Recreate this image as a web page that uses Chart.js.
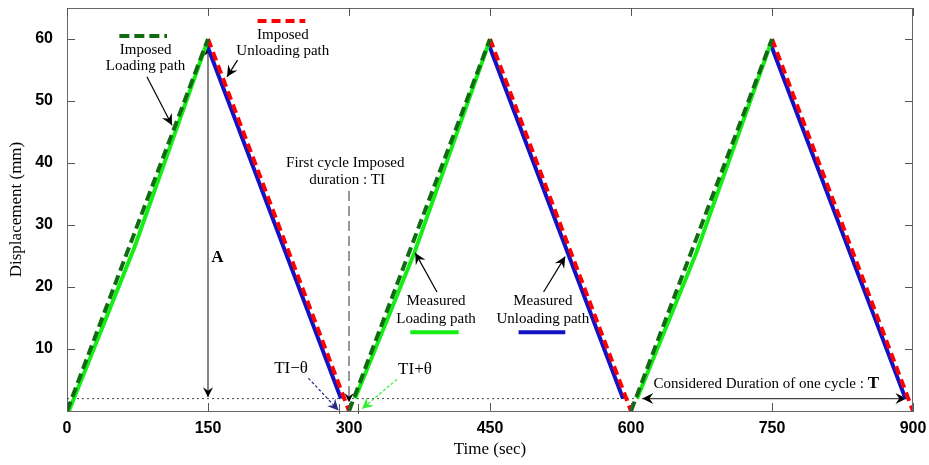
<!DOCTYPE html>
<html>
<head>
<meta charset="utf-8">
<script src="https://cdn.jsdelivr.net/npm/chart.js@4/dist/chart.umd.min.js"></script>
<style>
  body { margin: 0; background: #fff; }
</style>
</head>
<body>
<canvas id="myChart" width="929" height="465"></canvas>
<script>
// values (time in sec, displacement in mm), null = break between cycles
const imposedLoadTime   = [0, 150, 225, 300, 450, 525, 600, 750];
const imposedLoadDisp   = [0, 60, null, 0, 60, null, 0, 60];
const imposedUnloadTime = [150, 300, 375, 450, 600, 675, 750, 900];
const imposedUnloadDisp = [60, 0, null, 60, 0, null, 60, 0];
const measuredLoadTime   = [2, 72, 148, 225, 306.5, 369.5, 448, 525, 606.5, 669.5, 748];
const measuredLoadDisp   = [0, 26.5, 59, null, 2, 25.5, 59, null, 2, 25.5, 59];
const measuredUnloadTime = [149, 291.5, 375, 449, 591.5, 675, 749, 892];
const measuredUnloadDisp = [59, 2, null, 59, 2, null, 59, 2];

const xTicks = [0, 150, 300, 450, 600, 750, 900];
const yTicks = [10, 20, 30, 40, 50, 60];
const thetaTicks = [289, 310];
const plateau = 2;

const serif = '"Liberation Serif", "Times New Roman", serif';
const sans = '"Liberation Sans", Arial, sans-serif';

function pts(t, d) {
  return t.map((x, i) => ({ x: x, y: d[i] }));
}

function head(ctx, x1, y1, x2, y2, size, color) {
  const a = Math.atan2(y2 - y1, x2 - x1);
  ctx.save();
  ctx.translate(x2, y2);
  ctx.rotate(a);
  ctx.setLineDash([]);
  ctx.fillStyle = color;
  ctx.beginPath();
  ctx.moveTo(0, 0);
  ctx.lineTo(-size, -size * 0.5);
  ctx.lineTo(-size * 0.65, 0);
  ctx.lineTo(-size, size * 0.5);
  ctx.closePath();
  ctx.fill();
  ctx.restore();
}

function line(ctx, x1, y1, x2, y2, color, width, dash) {
  ctx.save();
  ctx.strokeStyle = color;
  ctx.lineWidth = width;
  ctx.setLineDash(dash || []);
  ctx.beginPath();
  ctx.moveTo(x1, y1);
  ctx.lineTo(x2, y2);
  ctx.stroke();
  ctx.restore();
}

function text(ctx, s, x, y, font, align) {
  ctx.save();
  ctx.fillStyle = '#000';
  ctx.font = font;
  ctx.textAlign = align || 'center';
  ctx.textBaseline = 'middle';
  ctx.fillText(s, x, y);
  ctx.restore();
}

const annotations = {
  id: 'annotations',
  beforeDatasetsDraw(chart) {
    const ctx = chart.ctx;
    const X = chart.scales.x, Y = chart.scales.y;
    const px = v => X.getPixelForValue(v), py = v => Y.getPixelForValue(v);
    // dotted level line
    line(ctx, px(0), py(plateau), px(612), py(plateau), '#444', 1, [2, 3]);
    // first cycle imposed duration
    line(ctx, px(300), py(35.5), px(300), py(1.6), '#555', 1.2, [10, 5]);
    head(ctx, px(300), py(4), px(300), py(1.4), 9, '#000');
    // amplitude A
    line(ctx, px(150), py(58.5), px(150), py(2.3), '#333', 1.2);
    head(ctx, px(150), py(50), px(150), py(58.8), 10, '#000');
    head(ctx, px(150), py(10), px(150), py(2.2), 10, '#000');
    // one cycle duration T
    line(ctx, px(612), py(plateau), px(893), py(plateau), '#444', 1.2);
    head(ctx, px(650), py(plateau), px(612), py(plateau), 11, '#000');
    head(ctx, px(860), py(plateau), px(893), py(plateau), 11, '#000');
  },
  afterDatasetsDraw(chart) {
    const ctx = chart.ctx;
    const X = chart.scales.x, Y = chart.scales.y;
    const a = chart.chartArea;
    const px = v => X.getPixelForValue(v), py = v => Y.getPixelForValue(v);

    // box: top and right edges with inward ticks
    line(ctx, a.left, a.top + 0.5, a.right, a.top + 0.5, '#666', 1);
    line(ctx, a.right - 0.5, a.top, a.right - 0.5, a.bottom, '#666', 1);
    xTicks.forEach(t => {
      const x = Math.round(px(t)) + 0.5;
      line(ctx, x, a.bottom, x, a.bottom - 8, '#555', 1);
      line(ctx, x, a.top, x, a.top + 8, '#555', 1);
    });
    yTicks.forEach(v => {
      const y = Math.round(py(v)) + 0.5;
      line(ctx, a.left, y, a.left + 8, y, '#555', 1);
      line(ctx, a.right, y, a.right - 8, y, '#555', 1);
    });
    thetaTicks.forEach(t => {
      const x = Math.round(px(t)) + 0.5;
      line(ctx, x, a.bottom - 7, x, a.bottom + 3, '#555', 1);
    });

    // legend samples
    line(ctx, px(55.7), py(60.5), px(106.4), py(60.5), '#126b12', 4, [10, 5]);
    line(ctx, px(202.7), py(62.9), px(253.5), py(62.9), '#ff0000', 4, [9, 5]);
    line(ctx, px(365.2), py(12.7), px(416.7), py(12.7), '#14ee14', 4);
    line(ctx, px(480.4), py(12.7), px(530.1), py(12.7), '#1212c4', 4);

    const f15 = '15px ' + serif;
    text(ctx, 'Imposed', px(83.6), py(58.2), f15);
    text(ctx, 'Loading path', px(83.6), py(55.6), f15);
    text(ctx, 'Imposed', px(229.6), py(60.7), f15);
    text(ctx, 'Unloading path', px(229.6), py(58.1), f15);
    text(ctx, 'First cycle Imposed', px(296), py(40), f15);
    text(ctx, 'duration : TI', px(298), py(37.3), f15);
    text(ctx, 'A', px(160), py(24.8), 'bold 17px ' + serif);
    text(ctx, 'Measured', px(392.6), py(17.7), f15);
    text(ctx, 'Loading path', px(392.6), py(14.8), f15);
    text(ctx, 'Measured', px(506.2), py(17.7), f15);
    text(ctx, 'Unloading path', px(506.2), py(14.8), f15);
    text(ctx, 'TI\u2212\u03b8', px(238.4), py(6.8), '17px ' + serif);
    text(ctx, 'TI+\u03b8', px(370.2), py(6.7), '17px ' + serif);

    const cons = 'Considered Duration of one cycle : ';
    ctx.save();
    ctx.font = f15;
    const w = ctx.measureText(cons).width;
    ctx.restore();
    text(ctx, cons, px(624), py(4.4), f15, 'left');
    text(ctx, 'T', px(624) + w, py(4.4), 'bold 17px ' + serif, 'left');

    // pointer arrows
    const arrows = [
      [85, 53.9, 111.7, 46.1, '#000', []],
      [181.4, 56.6, 170.2, 53.9, '#000', []],
      [393.6, 19.2, 370.5, 25.5, '#000', []],
      [507, 19.2, 530, 24.9, '#000', []],
      [256.8, 5.3, 288.9, 0.1, '#2a2a8a', [3, 2]],
      [351, 5.1, 313.8, 0.35, '#33ee33', [3, 2]]
    ];
    arrows.forEach(r => {
      line(ctx, px(r[0]), py(r[1]), px(r[2]), py(r[3]), r[4], 1.2, r[5]);
      head(ctx, px(r[0]), py(r[1]), px(r[2]), py(r[3]), 11, r[4]);
    });
  }
};

const config = {
  type: 'scatter',
  data: {
    datasets: [
      {
        label: 'Imposed Loading path',
        data: pts(imposedLoadTime, imposedLoadDisp),
        showLine: true, borderColor: '#126b12', borderWidth: 4,
        borderDash: [10, 5], pointRadius: 0, order: 0
      },
      {
        label: 'Imposed Unloading path',
        data: pts(imposedUnloadTime, imposedUnloadDisp),
        showLine: true, borderColor: '#ff0000', borderWidth: 4,
        borderDash: [9, 5], pointRadius: 0, order: 0
      },
      {
        label: 'Measured Loading path',
        data: pts(measuredLoadTime, measuredLoadDisp),
        showLine: true, borderColor: '#14ee14', borderWidth: 4,
        pointRadius: 0, order: 1
      },
      {
        label: 'Measured Unloading path',
        data: pts(measuredUnloadTime, measuredUnloadDisp),
        showLine: true, borderColor: '#1212c4', borderWidth: 4,
        pointRadius: 0, order: 1
      }
    ]
  },
  options: {
    responsive: false,
    animation: false,
    spanGaps: false,
    layout: { padding: { top: 8, right: 16, left: 0, bottom: 0 } },
    plugins: { legend: { display: false }, tooltip: { enabled: false } },
    scales: {
      x: {
        type: 'linear', min: 0, max: 900,
        afterBuildTicks: s => { s.ticks = xTicks.map(v => ({ value: v })); },
        afterFit: s => { s.height = 54; s.paddingLeft = 0; s.paddingRight = 0; },
        grid: { display: false, drawTicks: false },
        border: { display: true, color: '#666', width: 1 },
        ticks: { color: '#000', padding: 8, font: { family: sans, size: 16, weight: 'bold' } },
        title: { display: true, text: 'Time (sec)', color: '#000',
                 font: { family: serif, size: 17 }, padding: { top: 0, bottom: 5 } }
      },
      y: {
        type: 'linear', min: 0, max: 65,
        afterBuildTicks: s => { s.ticks = yTicks.map(v => ({ value: v })); },
        afterFit: s => { s.width = 67; s.paddingTop = 0; s.paddingBottom = 0; },
        grid: { display: false, drawTicks: false },
        border: { display: true, color: '#666', width: 1 },
        ticks: { color: '#000', padding: 14, font: { family: sans, size: 16, weight: 'bold' } },
        title: { display: true, text: 'Displacement (mm)', color: '#000',
                 font: { family: serif, size: 17 }, padding: { top: 6, bottom: 0 } }
      }
    }
  },
  plugins: [annotations]
};

const myChart = new Chart(document.getElementById('myChart'), config);
</script>
</body>
</html>
